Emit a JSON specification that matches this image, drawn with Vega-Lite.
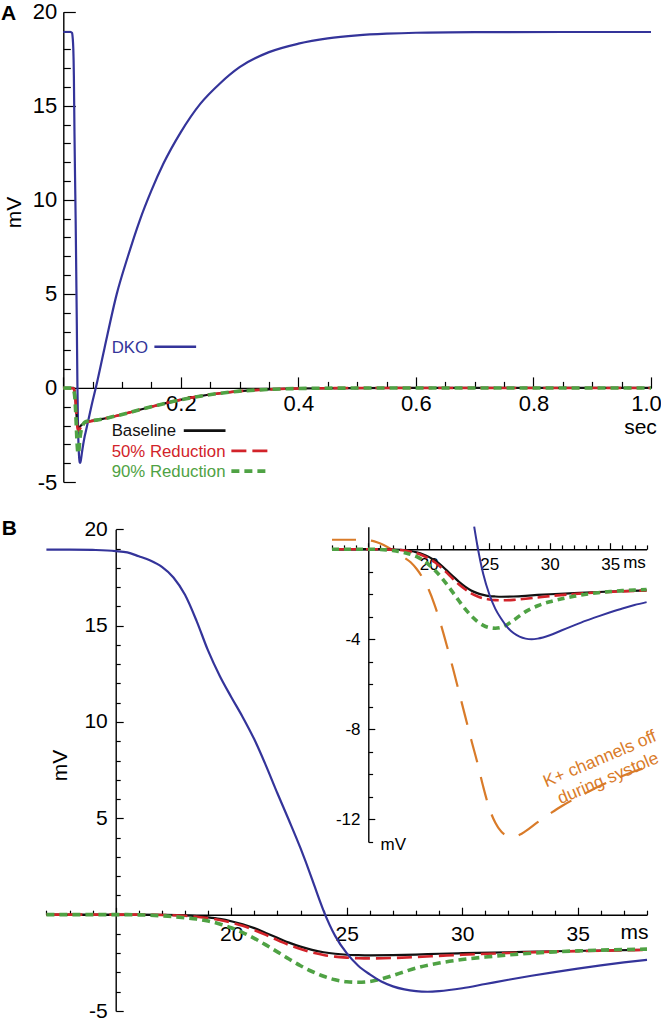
{
  "$schema": "https://vega.github.io/schema/vega-lite/v6.json",
  "width": 661,
  "height": 1020,
  "autosize": "none",
  "padding": 0,
  "background": "white",
  "config": {
    "view": {"stroke": null},
    "font": "Liberation Sans",
    "line": {"interpolate": "monotone"},
    "axis": {"grid": false, "domainColor": "#000", "domainWidth": 1.4, "tickColor": "#000", "tickWidth": 1.2, "labelColor": "#000", "labelFont": "Liberation Sans", "titleFont": "Liberation Sans", "titleFontWeight": "normal", "titleColor": "#000", "labelOverlap": false, "labelFlush": false, "labelBound": false, "titlePadding": 0}
  },
  "datasets": {
    "a": [
      {"s":"DKO","t":0,"v":18.92},{"s":"DKO","t":0.012,"v":18.92},{"s":"DKO","t":0.015,"v":18.87},{"s":"DKO","t":0.016,"v":18.6},{"s":"DKO","t":0.017,"v":18.05},{"s":"DKO","t":0.018,"v":16.6},{"s":"DKO","t":0.019,"v":13.6},{"s":"DKO","t":0.02,"v":11.2},{"s":"DKO","t":0.021,"v":9.0},{"s":"DKO","t":0.022,"v":6.2},{"s":"DKO","t":0.023,"v":3.4},{"s":"DKO","t":0.024,"v":0.2},{"s":"DKO","t":0.025,"v":-2.0},{"s":"DKO","t":0.026,"v":-3.1},{"s":"DKO","t":0.027,"v":-3.72},{"s":"DKO","t":0.028,"v":-3.97},{"s":"DKO","t":0.029,"v":-3.98},{"s":"DKO","t":0.03,"v":-3.82},{"s":"DKO","t":0.032,"v":-3.38},{"s":"DKO","t":0.034,"v":-2.98},{"s":"DKO","t":0.036,"v":-2.63},{"s":"DKO","t":0.038,"v":-2.35},{"s":"DKO","t":0.042,"v":-1.8},{"s":"DKO","t":0.048,"v":-0.95},{"s":"DKO","t":0.056,"v":0.1},{"s":"DKO","t":0.07,"v":2.1},{"s":"DKO","t":0.091,"v":5.0},{"s":"DKO","t":0.11,"v":7.0},{"s":"DKO","t":0.13,"v":8.9},{"s":"DKO","t":0.15,"v":10.5},{"s":"DKO","t":0.17,"v":11.9},{"s":"DKO","t":0.2,"v":13.6},{"s":"DKO","t":0.233,"v":15.1},{"s":"DKO","t":0.267,"v":16.2},{"s":"DKO","t":0.3,"v":17.05},{"s":"DKO","t":0.35,"v":17.85},{"s":"DKO","t":0.4,"v":18.3},{"s":"DKO","t":0.45,"v":18.58},{"s":"DKO","t":0.5,"v":18.74},{"s":"DKO","t":0.55,"v":18.83},{"s":"DKO","t":0.6,"v":18.88},{"s":"DKO","t":0.7,"v":18.91},{"s":"DKO","t":0.85,"v":18.92},{"s":"DKO","t":1.0,"v":18.92},
      {"s":"Baseline","t":0,"v":0},{"s":"Baseline","t":0.017,"v":0},{"s":"Baseline","t":0.018,"v":-0.04},{"s":"Baseline","t":0.019,"v":-0.14},{"s":"Baseline","t":0.02,"v":-0.34},{"s":"Baseline","t":0.021,"v":-0.7},{"s":"Baseline","t":0.022,"v":-1.2},{"s":"Baseline","t":0.023,"v":-1.66},{"s":"Baseline","t":0.024,"v":-1.95},{"s":"Baseline","t":0.025,"v":-2.08},{"s":"Baseline","t":0.026,"v":-2.11},{"s":"Baseline","t":0.028,"v":-2.07},{"s":"Baseline","t":0.03,"v":-2.0},{"s":"Baseline","t":0.034,"v":-1.9},{"s":"Baseline","t":0.038,"v":-1.83},{"s":"Baseline","t":0.045,"v":-1.77},{"s":"Baseline","t":0.055,"v":-1.72},{"s":"Baseline","t":0.065,"v":-1.66},{"s":"Baseline","t":0.08,"v":-1.56},{"s":"Baseline","t":0.1,"v":-1.41},{"s":"Baseline","t":0.13,"v":-1.16},{"s":"Baseline","t":0.16,"v":-0.92},{"s":"Baseline","t":0.195,"v":-0.66},{"s":"Baseline","t":0.23,"v":-0.45},{"s":"Baseline","t":0.26,"v":-0.31},{"s":"Baseline","t":0.3,"v":-0.17},{"s":"Baseline","t":0.35,"v":-0.08},{"s":"Baseline","t":0.4,"v":-0.03},{"s":"Baseline","t":0.5,"v":-0.005},{"s":"Baseline","t":0.6,"v":0},{"s":"Baseline","t":1.0,"v":0},
      {"s":"50","t":0,"v":0},{"s":"50","t":0.017,"v":-0.02},{"s":"50","t":0.018,"v":-0.06},{"s":"50","t":0.019,"v":-0.18},{"s":"50","t":0.02,"v":-0.41},{"s":"50","t":0.021,"v":-0.8},{"s":"50","t":0.022,"v":-1.32},{"s":"50","t":0.023,"v":-1.78},{"s":"50","t":0.024,"v":-2.09},{"s":"50","t":0.025,"v":-2.23},{"s":"50","t":0.026,"v":-2.27},{"s":"50","t":0.028,"v":-2.2},{"s":"50","t":0.03,"v":-2.08},{"s":"50","t":0.034,"v":-1.92},{"s":"50","t":0.038,"v":-1.84},{"s":"50","t":0.045,"v":-1.78},{"s":"50","t":0.055,"v":-1.72},{"s":"50","t":0.065,"v":-1.66},{"s":"50","t":0.08,"v":-1.56},{"s":"50","t":0.1,"v":-1.41},{"s":"50","t":0.13,"v":-1.16},{"s":"50","t":0.16,"v":-0.92},{"s":"50","t":0.195,"v":-0.66},{"s":"50","t":0.23,"v":-0.45},{"s":"50","t":0.26,"v":-0.31},{"s":"50","t":0.3,"v":-0.17},{"s":"50","t":0.35,"v":-0.08},{"s":"50","t":0.4,"v":-0.03},{"s":"50","t":0.5,"v":-0.005},{"s":"50","t":0.6,"v":0},{"s":"50","t":1.0,"v":0},
      {"s":"90","t":0,"v":0},{"s":"90","t":0.016,"v":-0.01},{"s":"90","t":0.017,"v":-0.06},{"s":"90","t":0.018,"v":-0.16},{"s":"90","t":0.019,"v":-0.33},{"s":"90","t":0.02,"v":-0.68},{"s":"90","t":0.021,"v":-1.23},{"s":"90","t":0.022,"v":-1.93},{"s":"90","t":0.023,"v":-2.65},{"s":"90","t":0.024,"v":-3.2},{"s":"90","t":0.025,"v":-3.48},{"s":"90","t":0.026,"v":-3.47},{"s":"90","t":0.027,"v":-3.16},{"s":"90","t":0.028,"v":-2.77},{"s":"90","t":0.03,"v":-2.33},{"s":"90","t":0.032,"v":-2.09},{"s":"90","t":0.034,"v":-1.93},{"s":"90","t":0.036,"v":-1.84},{"s":"90","t":0.038,"v":-1.79},{"s":"90","t":0.045,"v":-1.75},{"s":"90","t":0.055,"v":-1.71},{"s":"90","t":0.065,"v":-1.66},{"s":"90","t":0.08,"v":-1.56},{"s":"90","t":0.1,"v":-1.41},{"s":"90","t":0.13,"v":-1.16},{"s":"90","t":0.16,"v":-0.92},{"s":"90","t":0.195,"v":-0.66},{"s":"90","t":0.23,"v":-0.45},{"s":"90","t":0.26,"v":-0.31},{"s":"90","t":0.3,"v":-0.17},{"s":"90","t":0.35,"v":-0.08},{"s":"90","t":0.4,"v":-0.03},{"s":"90","t":0.5,"v":-0.005},{"s":"90","t":0.6,"v":0},{"s":"90","t":1.0,"v":0}
    ],
    "akey": [
      {"s":"DKO","t":0.155,"t2":0.226,"v":2.19},
      {"s":"Baseline","t":0.205,"t2":0.276,"v":-2.27},
      {"s":"50","t":0.286,"t2":0.351,"v":-3.35},
      {"s":"90","t":0.286,"t2":0.351,"v":-4.42}
    ],
    "atext": [
      {"s":"DKO","label":"DKO","t":0.0823,"v":1.88},
      {"s":"Baseline","label":"Baseline","t":0.0823,"v":-2.57},
      {"s":"50","label":"50% Reduction","t":0.0823,"v":-3.65},
      {"s":"90","label":"90% Reduction","t":0.0823,"v":-4.71}
    ],
    "b": [
      {"s":"DKO","t":12,"v":18.95},{"s":"DKO","t":13,"v":18.95},{"s":"DKO","t":14,"v":18.93},{"s":"DKO","t":15,"v":18.87},{"s":"DKO","t":15.5,"v":18.8},{"s":"DKO","t":16,"v":18.6},{"s":"DKO","t":16.5,"v":18.38},{"s":"DKO","t":17,"v":18.05},{"s":"DKO","t":17.5,"v":17.5},{"s":"DKO","t":18,"v":16.6},{"s":"DKO","t":18.5,"v":15.25},{"s":"DKO","t":19,"v":13.7},{"s":"DKO","t":19.5,"v":12.4},{"s":"DKO","t":20,"v":11.3},{"s":"DKO","t":20.5,"v":10.25},{"s":"DKO","t":21,"v":9.1},{"s":"DKO","t":21.5,"v":7.75},{"s":"DKO","t":22,"v":6.3},{"s":"DKO","t":22.5,"v":4.9},{"s":"DKO","t":23,"v":3.45},{"s":"DKO","t":23.5,"v":1.85},{"s":"DKO","t":23.75,"v":1.0},{"s":"DKO","t":24,"v":0.2},{"s":"DKO","t":24.5,"v":-1.1},{"s":"DKO","t":25,"v":-2.0},{"s":"DKO","t":25.5,"v":-2.65},{"s":"DKO","t":26,"v":-3.1},{"s":"DKO","t":26.5,"v":-3.47},{"s":"DKO","t":27,"v":-3.72},{"s":"DKO","t":27.5,"v":-3.88},{"s":"DKO","t":28,"v":-3.97},{"s":"DKO","t":28.5,"v":-4.0},{"s":"DKO","t":29,"v":-3.97},{"s":"DKO","t":30,"v":-3.82},{"s":"DKO","t":31,"v":-3.6},{"s":"DKO","t":32,"v":-3.38},{"s":"DKO","t":33,"v":-3.17},{"s":"DKO","t":34,"v":-2.98},{"s":"DKO","t":35,"v":-2.8},{"s":"DKO","t":36,"v":-2.63},{"s":"DKO","t":37,"v":-2.48},{"s":"DKO","t":38,"v":-2.35},
      {"s":"Baseline","t":12,"v":0},{"s":"Baseline","t":16,"v":0},{"s":"Baseline","t":17,"v":-0.01},{"s":"Baseline","t":18,"v":-0.04},{"s":"Baseline","t":18.5,"v":-0.08},{"s":"Baseline","t":19,"v":-0.14},{"s":"Baseline","t":19.5,"v":-0.22},{"s":"Baseline","t":20,"v":-0.34},{"s":"Baseline","t":20.5,"v":-0.5},{"s":"Baseline","t":21,"v":-0.7},{"s":"Baseline","t":21.5,"v":-0.95},{"s":"Baseline","t":22,"v":-1.2},{"s":"Baseline","t":22.5,"v":-1.45},{"s":"Baseline","t":23,"v":-1.66},{"s":"Baseline","t":23.5,"v":-1.83},{"s":"Baseline","t":24,"v":-1.95},{"s":"Baseline","t":24.5,"v":-2.03},{"s":"Baseline","t":25,"v":-2.08},{"s":"Baseline","t":25.5,"v":-2.1},{"s":"Baseline","t":26,"v":-2.11},{"s":"Baseline","t":27,"v":-2.1},{"s":"Baseline","t":28,"v":-2.07},{"s":"Baseline","t":29,"v":-2.03},{"s":"Baseline","t":30,"v":-2.0},{"s":"Baseline","t":32,"v":-1.95},{"s":"Baseline","t":34,"v":-1.9},{"s":"Baseline","t":36,"v":-1.86},{"s":"Baseline","t":38,"v":-1.83},
      {"s":"50","t":12,"v":0},{"s":"50","t":16,"v":0},{"s":"50","t":17,"v":-0.02},{"s":"50","t":18,"v":-0.06},{"s":"50","t":18.5,"v":-0.11},{"s":"50","t":19,"v":-0.18},{"s":"50","t":19.5,"v":-0.28},{"s":"50","t":20,"v":-0.41},{"s":"50","t":20.5,"v":-0.58},{"s":"50","t":21,"v":-0.8},{"s":"50","t":21.5,"v":-1.05},{"s":"50","t":22,"v":-1.32},{"s":"50","t":22.5,"v":-1.57},{"s":"50","t":23,"v":-1.78},{"s":"50","t":23.5,"v":-1.96},{"s":"50","t":24,"v":-2.09},{"s":"50","t":24.5,"v":-2.18},{"s":"50","t":25,"v":-2.23},{"s":"50","t":25.5,"v":-2.26},{"s":"50","t":26,"v":-2.27},{"s":"50","t":27,"v":-2.25},{"s":"50","t":28,"v":-2.2},{"s":"50","t":29,"v":-2.14},{"s":"50","t":30,"v":-2.08},{"s":"50","t":32,"v":-1.99},{"s":"50","t":34,"v":-1.92},{"s":"50","t":36,"v":-1.87},{"s":"50","t":38,"v":-1.83},
      {"s":"90","t":12,"v":0},{"s":"90","t":15.5,"v":0},{"s":"90","t":16,"v":-0.01},{"s":"90","t":16.5,"v":-0.03},{"s":"90","t":17,"v":-0.06},{"s":"90","t":17.5,"v":-0.1},{"s":"90","t":18,"v":-0.16},{"s":"90","t":18.5,"v":-0.23},{"s":"90","t":19,"v":-0.33},{"s":"90","t":19.5,"v":-0.48},{"s":"90","t":20,"v":-0.68},{"s":"90","t":20.5,"v":-0.93},{"s":"90","t":21,"v":-1.23},{"s":"90","t":21.5,"v":-1.57},{"s":"90","t":22,"v":-1.93},{"s":"90","t":22.5,"v":-2.3},{"s":"90","t":23,"v":-2.65},{"s":"90","t":23.5,"v":-2.95},{"s":"90","t":24,"v":-3.2},{"s":"90","t":24.5,"v":-3.38},{"s":"90","t":25,"v":-3.48},{"s":"90","t":25.5,"v":-3.51},{"s":"90","t":26,"v":-3.47},{"s":"90","t":26.5,"v":-3.34},{"s":"90","t":27,"v":-3.16},{"s":"90","t":27.5,"v":-2.96},{"s":"90","t":28,"v":-2.77},{"s":"90","t":29,"v":-2.51},{"s":"90","t":30,"v":-2.33},{"s":"90","t":31,"v":-2.2},{"s":"90","t":32,"v":-2.09},{"s":"90","t":33,"v":-2.0},{"s":"90","t":34,"v":-1.93},{"s":"90","t":35,"v":-1.88},{"s":"90","t":36,"v":-1.84},{"s":"90","t":37,"v":-1.81},{"s":"90","t":38,"v":-1.79},
      {"s":"K","t":12,"v":0.42},{"s":"K","t":14,"v":0.42},{"s":"K","t":15,"v":0.4},{"s":"K","t":15.5,"v":0.35},{"s":"K","t":16,"v":0.25},{"s":"K","t":16.5,"v":0.12},{"s":"K","t":17,"v":-0.03},{"s":"K","t":17.5,"v":-0.2},{"s":"K","t":18,"v":-0.38},{"s":"K","t":18.5,"v":-0.58},{"s":"K","t":19,"v":-0.88},{"s":"K","t":19.5,"v":-1.28},{"s":"K","t":20,"v":-1.8},{"s":"K","t":20.5,"v":-2.5},{"s":"K","t":21,"v":-3.35},{"s":"K","t":21.5,"v":-4.3},{"s":"K","t":22,"v":-5.3},{"s":"K","t":22.5,"v":-6.35},{"s":"K","t":23,"v":-7.4},{"s":"K","t":23.5,"v":-8.45},{"s":"K","t":24,"v":-9.45},{"s":"K","t":24.5,"v":-10.55},{"s":"K","t":25,"v":-11.5},{"s":"K","t":25.5,"v":-12.15},{"s":"K","t":26,"v":-12.55},{"s":"K","t":26.5,"v":-12.72},{"s":"K","t":27,"v":-12.76},{"s":"K","t":27.5,"v":-12.68},{"s":"K","t":28,"v":-12.52},{"s":"K","t":29,"v":-12.12},{"s":"K","t":30,"v":-11.75},{"s":"K","t":31,"v":-11.4},{"s":"K","t":32,"v":-11.1},{"s":"K","t":33,"v":-10.82},{"s":"K","t":34,"v":-10.55},{"s":"K","t":35,"v":-10.3},{"s":"K","t":36,"v":-10.07},{"s":"K","t":37,"v":-9.86},{"s":"K","t":38,"v":-9.68}
    ],
    "panelA": [{"label":"A","t":-0.106,"v":19.56}],
    "panelB": [{"label":"B","t":10.07,"v":19.7}],
    "itext": [{"label":"K+ channels off\nduring systole","t":34.15,"v":-9.33}]
  },
  "layer": [
    {
      "data": {"name": "a"},
      "encoding": {
        "x": {"field":"t","type":"quantitative",
          "scale":{"domain":[0,1],"range":[63.3,651],"nice":false,"zero":false},
          "axis":{"orient":"bottom","offset":-632.1,
            "values":[0,0.05,0.1,0.15,0.2,0.25,0.3,0.35,0.4,0.45,0.5,0.55,0.6,0.65,0.7,0.75,0.8,0.85,0.9,0.95,1],
            "tickSize":{"condition":{"test":"abs(datum.value*5-round(datum.value*5))<0.001","value":-11},"value":-6.5},
            "labelExpr":"datum.value>0.1 && abs(datum.value*5-round(datum.value*5))<0.001 ? format(datum.value,'.1f') : ''",
            "labelPadding":16.4,"labelFontSize":22,
            "labelOffset":{"condition":{"test":"datum.value>0.99","value":-5},"value":0},
            "title":"sec","titleX":640,"titleY":46,"titleAlign":"center","titleBaseline":"alphabetic","titleAngle":0,"titleFontSize":21}},
        "y": {"field":"v","type":"quantitative",
          "scale":{"domain":[-5,20],"range":[482,11.7],"nice":false,"zero":false},
          "axis":{"orient":"left","offset":-63.3,
            "values":[-5,-4,-3,-2,-1,0,1,2,3,4,5,6,7,8,9,10,11,12,13,14,15,16,17,18,19,20],
            "tickSize":{"condition":{"test":"datum.value % 5 === 0","value":-12},"value":-7},
            "labelExpr":"datum.value % 5 === 0 ? '' + datum.value : ''",
            "labelPadding":18.6,"labelFontSize":22,
            "title":"mV","titleX":-49,"titleY":212,"titleAngle":270,"titleAlign":"center","titleBaseline":"middle","titleFontSize":21}}
      },
      "layer": [
        {"transform":[{"filter":"datum.s === 'DKO'"}],"mark":{"type":"line","color":"#34349a","strokeWidth":2.2}},
        {"transform":[{"filter":"datum.s === 'Baseline'"}],"mark":{"type":"line","color":"#111111","strokeWidth":2.2}},
        {"transform":[{"filter":"datum.s === '50'"}],"mark":{"type":"line","color":"#d2232a","strokeWidth":2.6,"strokeDash":[15,6]}},
        {"transform":[{"filter":"datum.s === '90'"}],"mark":{"type":"line","color":"#4fa244","strokeWidth":3.6,"strokeDash":[8,5]}},
        {"data":{"name":"akey"},"transform":[{"filter":"datum.s === 'DKO'"}],"mark":{"type":"rule","color":"#34349a","strokeWidth":2.6},"encoding":{"x2":{"field":"t2"}}},
        {"data":{"name":"akey"},"transform":[{"filter":"datum.s === 'Baseline'"}],"mark":{"type":"rule","color":"#111111","strokeWidth":2.6},"encoding":{"x2":{"field":"t2"}}},
        {"data":{"name":"akey"},"transform":[{"filter":"datum.s === '50'"}],"mark":{"type":"rule","color":"#d2232a","strokeWidth":2.8,"strokeDash":[15,6]},"encoding":{"x2":{"field":"t2"}}},
        {"data":{"name":"akey"},"transform":[{"filter":"datum.s === '90'"}],"mark":{"type":"rule","color":"#4fa244","strokeWidth":3.6,"strokeDash":[8,5]},"encoding":{"x2":{"field":"t2"}}},
        {"data":{"name":"atext"},"mark":{"type":"text","align":"left","baseline":"alphabetic","fontSize":16.8},
          "encoding":{"text":{"field":"label"},"color":{"field":"s","type":"nominal","scale":{"domain":["DKO","Baseline","50","90"],"range":["#34349a","#111111","#d2232a","#4fa244"]},"legend":null}}},
        {"data":{"name":"panelA"},"mark":{"type":"text","align":"left","baseline":"alphabetic","fontSize":21,"fontWeight":"bold","color":"#000"},"encoding":{"text":{"field":"label"}}}
      ]
    },
    {
      "data": {"name": "b"},
      "encoding": {
        "x": {"field":"t","type":"quantitative",
          "scale":{"domain":[12,38],"range":[46.4,647],"nice":false,"zero":false},
          "axis":{"orient":"bottom","offset":-105.3,
            "values":[12,13,14,15,16,17,18,19,20,21,22,23,24,25,26,27,28,29,30,31,32,33,34,35,36,37,38],
            "tickSize":{"condition":{"test":"datum.value % 5 === 0","value":-7.5},"value":-4.5},
            "labelExpr":"datum.value % 5 === 0 && datum.value > 15 ? '' + datum.value : ''",
            "labelPadding":16.2,"labelFontSize":21,
            "title":"ms","titleX":634,"titleY":24,"titleAlign":"center","titleBaseline":"alphabetic","titleAngle":0,"titleFontSize":21}},
        "y": {"field":"v","type":"quantitative",
          "scale":{"domain":[-5,20],"range":[1011,529.3],"nice":false,"zero":false},
          "axis":{"orient":"left","offset":-115.7,
            "values":[-5,-4,-3,-2,-1,0,1,2,3,4,5,6,7,8,9,10,11,12,13,14,15,16,17,18,19,20],
            "tickSize":{"condition":{"test":"datum.value % 5 === 0","value":-7.5},"value":-4.5},
            "labelExpr":"datum.value % 5 === 0 && datum.value !== 0 ? '' + datum.value : ''",
            "labelPadding":15.9,"labelFontSize":21,
            "title":"mV","titleX":-55.7,"titleY":765,"titleAngle":270,"titleAlign":"center","titleBaseline":"middle","titleFontSize":21}}
      },
      "layer": [
        {"transform":[{"filter":"datum.s === 'Baseline'"}],"mark":{"type":"line","color":"#111111","strokeWidth":2.2}},
        {"transform":[{"filter":"datum.s === '50'"}],"mark":{"type":"line","color":"#d2232a","strokeWidth":2.6,"strokeDash":[15,6]}},
        {"transform":[{"filter":"datum.s === '90'"}],"mark":{"type":"line","color":"#4fa244","strokeWidth":3.6,"strokeDash":[8,5]}},
        {"transform":[{"filter":"datum.s === 'DKO'"}],"mark":{"type":"line","color":"#34349a","strokeWidth":2.2}},
        {"data":{"name":"panelB"},"mark":{"type":"text","align":"left","baseline":"alphabetic","fontSize":21,"fontWeight":"bold","color":"#000"},"encoding":{"text":{"field":"label"}}}
      ]
    },
    {
      "data": {"name": "b"},
      "transform": [{"filter":"datum.v <= 1.001"}],
      "encoding": {
        "x": {"field":"t","type":"quantitative",
          "scale":{"domain":[12,38],"range":[332,646.6],"nice":false,"zero":false},
          "axis":{"orient":"bottom","offset":-470.8,
            "values":[12,13,14,15,16,17,18,19,20,21,22,23,24,25,26,27,28,29,30,31,32,33,34,35,36,37,38],
            "tickSize":{"condition":{"test":"datum.value % 5 === 0","value":-6.5},"value":-4.3},
            "labelExpr":"datum.value % 5 === 0 && datum.value > 15 ? '' + datum.value : ''",
            "labelPadding":14.2,"labelFontSize":17,
            "title":"ms","titleX":634,"titleY":18,"titleAlign":"center","titleBaseline":"alphabetic","titleAngle":0,"titleFontSize":17}},
        "y": {"field":"v","type":"quantitative",
          "scale":{"domain":[-13,1],"range":[842,526.7],"nice":false,"zero":false},
          "axis":{"orient":"left","offset":-368.3,
            "values":[-13,-12,-11,-10,-9,-8,-7,-6,-5,-4,-3,-2,-1,0],
            "tickSize":{"condition":{"test":"datum.value % 4 === 0","value":-6.5},"value":-4.3},
            "labelExpr":"datum.value % 4 === 0 && datum.value !== 0 ? '' + datum.value : ''",
            "labelPadding":14.8,"labelFontSize":17,
            "title":"mV","titleX":11.7,"titleY":849,"titleAngle":0,"titleAlign":"left","titleBaseline":"alphabetic","titleFontSize":17}}
      },
      "layer": [
        {"transform":[{"filter":"datum.s === 'K'"}],"mark":{"type":"line","color":"#d97b29","strokeWidth":2.2,"strokeDash":[24,15]}},
        {"transform":[{"filter":"datum.s === 'Baseline'"}],"mark":{"type":"line","color":"#111111","strokeWidth":2.2}},
        {"transform":[{"filter":"datum.s === '50'"}],"mark":{"type":"line","color":"#d2232a","strokeWidth":2.6,"strokeDash":[12,5]}},
        {"transform":[{"filter":"datum.s === '90'"}],"mark":{"type":"line","color":"#4fa244","strokeWidth":3.6,"strokeDash":[7,5]}},
        {"transform":[{"filter":"datum.s === 'DKO'"}],"mark":{"type":"line","color":"#34349a","strokeWidth":2}},
        {"data":{"name":"itext"},"mark":{"type":"text","align":"center","baseline":"middle","fontSize":17.5,"angle":-23,"lineBreak":"\n","lineHeight":21,"color":"#d97b29"},"encoding":{"text":{"field":"label"}}}
      ]
    }
  ],
  "resolve": {"scale": {"x": "independent", "y": "independent"}}
}
